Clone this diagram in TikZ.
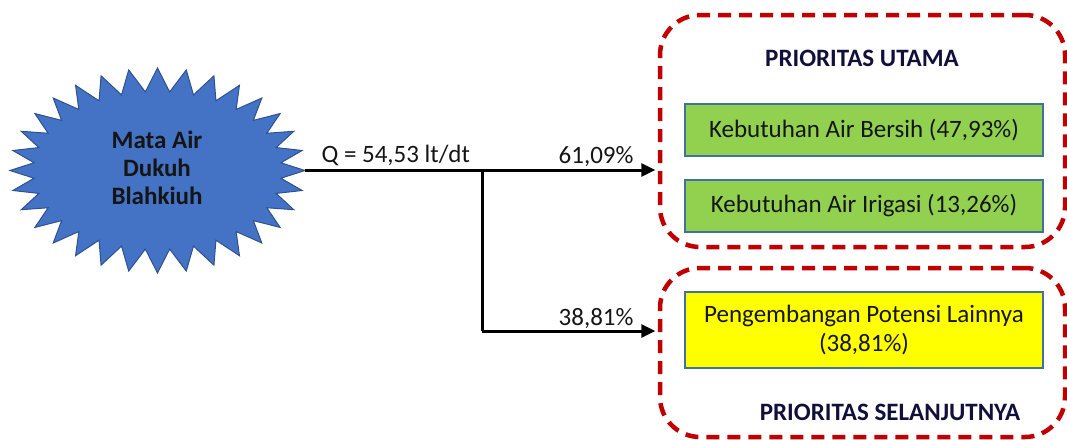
\documentclass[tikz,border=0pt]{standalone}
\usepackage{fontspec}
\setmainfont{Carlito}
\usetikzlibrary{arrows.meta,calc}

\definecolor{burstfill}{HTML}{4472C4}
\definecolor{burstline}{HTML}{2F528F}
\definecolor{prioline}{HTML}{C00000}
\definecolor{greenbox}{HTML}{92D050}
\definecolor{boxline}{HTML}{41719C}
\definecolor{headtext}{HTML}{10103A}
\definecolor{darktext}{HTML}{151515}
\definecolor{yellowbox}{HTML}{FFFF00}

\tikzset{
  burst/.style={fill=burstfill, draw=burstline, line width=1pt},
  sourcetext/.style={font=\fontsize{25}{28}\selectfont\bfseries, text=darktext, align=center},
  prioframe/.style={draw=prioline, line width=4.5pt, dash pattern=on 13pt off 8pt, rounded corners=40pt},
  needbox/.style={draw=boxline, line width=1.3pt, minimum width=358pt, minimum height=52pt,
    inner sep=0pt, font=\fontsize{25}{29}\selectfont, text=darktext, align=center},
  heading/.style={font=\fontsize{25}{28}\selectfont\bfseries, text=headtext},
  flowlabel/.style={font=\fontsize{25}{28}\selectfont, text=darktext},
  flow/.style={line width=3pt, -{Triangle[length=14pt,width=13pt]}},
  trunk/.style={line width=3pt}
}

\begin{document}
\begin{tikzpicture}[x=1pt, y=-1pt]
  \useasboundingbox (0,0) rectangle (1067,439);

  % spring: a 32-point starburst on an elliptic outline
  \path[burst] (157.5,68) \foreach \k in {1,...,63}{
      -- ({157.5+ifthenelse(isodd(\k),124,147.5)*sin(\k*5.625)},
          {170.5-ifthenelse(isodd(\k),79,102.5)*cos(\k*5.625)}) } -- cycle;
  \node[sourcetext] (src) at (157,168) {Mata Air\\Dukuh\\Blahkiuh};
  \coordinate (srcE) at (305,170);

  % priority groups
  \node[prioframe, minimum width=405pt, minimum height=232pt] (main) at (862.5,131) {};
  \node[prioframe, minimum width=405pt, minimum height=169pt] (next) at (862.5,352.5) {};

  \node[heading] (mainhead) at (862,58) {PRIORITAS UTAMA};
  \node[needbox, fill=greenbox] (bersih) at (864,130) {Kebutuhan Air Bersih (47,93\%)};
  \node[needbox, fill=greenbox] (irigasi) at (864,206) {Kebutuhan Air Irigasi (13,26\%)};
  \node[needbox, fill=yellowbox, minimum height=76pt] (potensi) at (864,330)
    {Pengembangan Potensi Lainnya\\(38,81\%)};
  \node[heading] (nexthead) at (890,412) {PRIORITAS SELANJUTNYA};

  % flow split
  \coordinate (split) at (482,170);
  \coordinate (low) at (482,331);
  \draw[flow, shorten >=2.5pt] (srcE) -- (srcE -| main.west);
  \draw[trunk] (split) -- (low);
  \draw[flow, shorten >=2.5pt] (low) -- (low -| next.west);

  \node[flowlabel, anchor=base west] (qlabel) at (318,162) {Q = 54,53 lt/dt};
  \node[flowlabel, anchor=base east] (pmain) at (637,163) {61,09\%};
  \node[flowlabel, anchor=base east] (pnext) at (637,325) {38,81\%};
\end{tikzpicture}
\end{document}
